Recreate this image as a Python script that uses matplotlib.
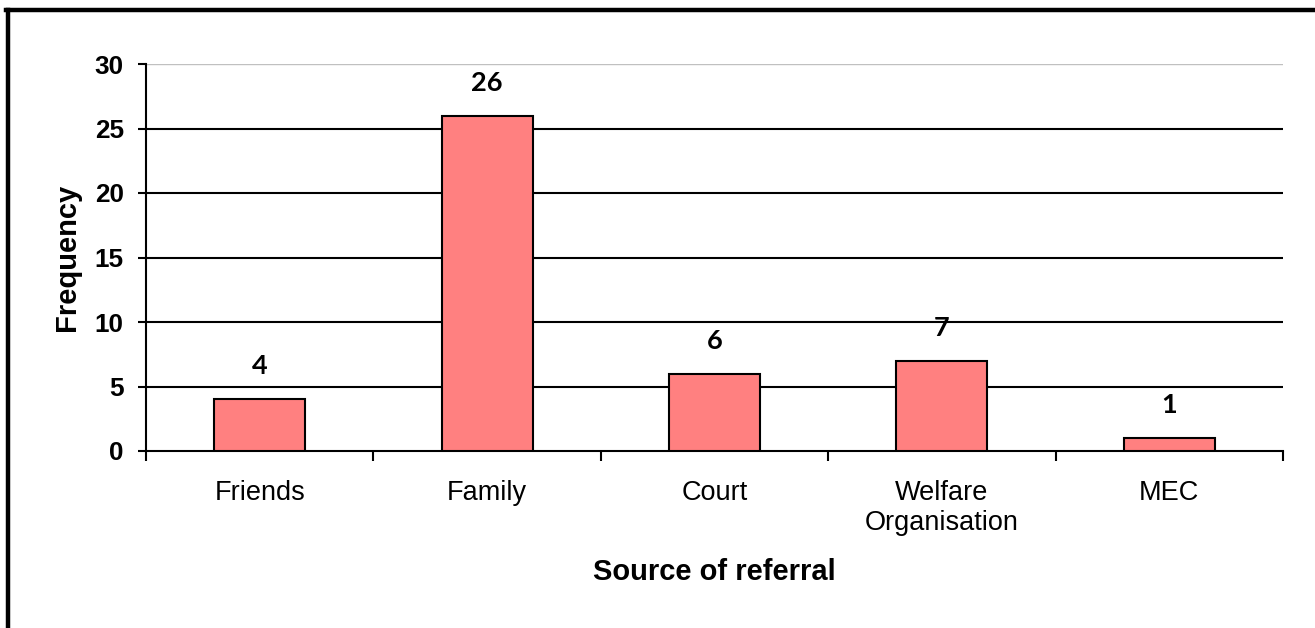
import numpy as np
import matplotlib
matplotlib.use('Agg')
import matplotlib.pyplot as plt
from matplotlib.lines import Line2D

plt.rcParams['font.family'] = ['Liberation Sans', 'DejaVu Sans']

categories = ['Friends', 'Family', 'Court', 'Welfare\nOrganisation', 'MEC']
frequency = [4, 26, 6, 7, 1]
y_ticks = [0, 5, 10, 15, 20, 25, 30]

W, H = 1315, 628
fig = plt.figure(figsize=(W / 100, H / 100), dpi=100)
ax = fig.add_axes([146 / W, 1 - 451 / H, (1283 - 146) / W, (451 - 64) / H])

x = np.arange(len(categories))
bars = ax.bar(x, frequency, width=0.4, color='#FF8080', edgecolor='black',
              linewidth=1.5, zorder=3)

# value labels above each bar
for xi, v in zip(x, frequency):
    ax.annotate(str(v), (xi, v), xytext=(0, 18), textcoords='offset points',
                ha='center', va='baseline', fontsize=19.5, fontweight='bold',
                family=['Lato', 'DejaVu Sans'])

ax.set_xlim(-0.5, len(categories) - 0.5)
ax.set_ylim(0, 30)

# gridlines: black except the top one, which is light grey
for t in y_ticks[1:-1]:
    ax.axhline(t, color='black', linewidth=1.5, zorder=1)
ax.axhline(30, color='#c0c0c0', linewidth=1.0, zorder=1)

ax.spines['top'].set_visible(False)
ax.spines['right'].set_visible(False)
ax.spines['left'].set_linewidth(1.5)
ax.spines['bottom'].set_linewidth(1.5)

ax.set_yticks(y_ticks)
ax.set_yticklabels([str(t) for t in y_ticks], fontsize=18.8, fontweight='bold')
ax.tick_params(axis='y', direction='out', length=6, width=1.5, pad=10)

# category labels in the middle, tick marks at the boundaries
ax.set_xticks(x)
ax.set_xticklabels(categories, fontsize=19.5, linespacing=1.2)
ax.tick_params(axis='x', which='major', length=0, pad=21)
ax.set_xticks(np.arange(-0.5, len(categories), 1.0), minor=True)
ax.tick_params(axis='x', which='minor', direction='out', length=7, width=1.5)

ax.set_xlabel('Source of referral', fontsize=21, fontweight='bold', labelpad=16)
ax.set_ylabel('Frequency', fontsize=21, fontweight='bold', labelpad=10)

# outer chart frame (only left and top edges visible)
fig.add_artist(Line2D([7.5 / W, 7.5 / W], [0, 1 - 9.5 / H], color='black',
                      linewidth=3.2, transform=fig.transFigure))
fig.add_artist(Line2D([5.5 / W, 1], [1 - 9.5 / H, 1 - 9.5 / H], color='black',
                      linewidth=3.2, transform=fig.transFigure))

fig.savefig('out.png', dpi=100)
